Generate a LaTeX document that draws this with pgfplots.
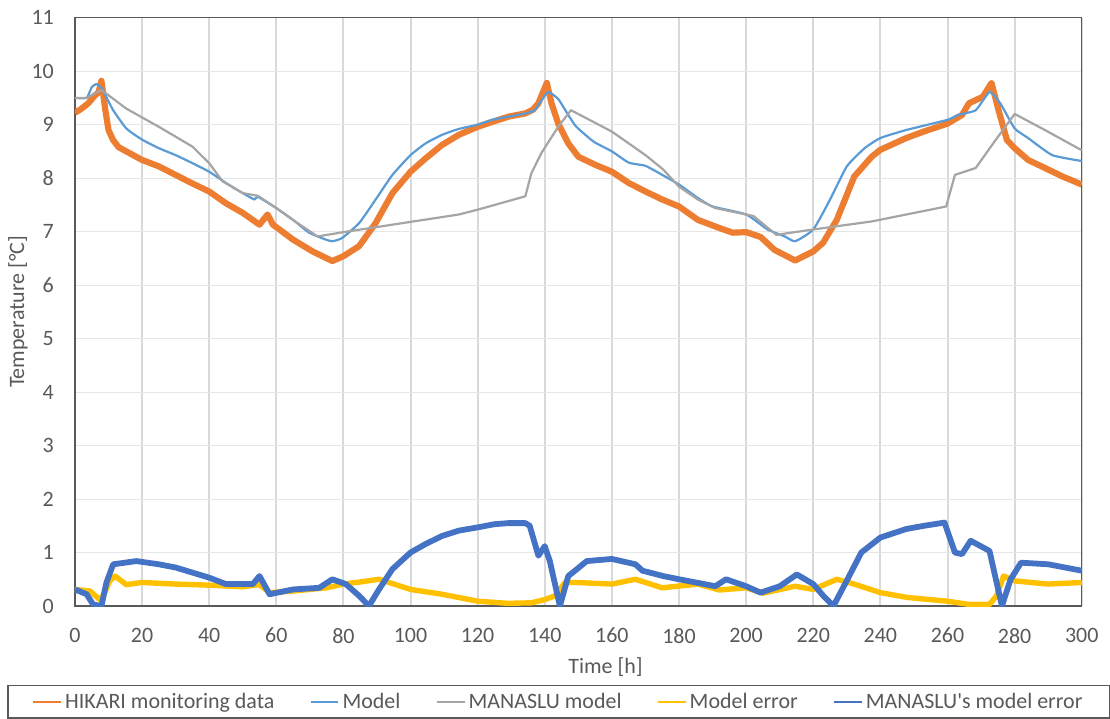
\documentclass[border=0pt]{standalone}
\usepackage{fontspec}
\setmainfont{Carlito}
\usepackage{pgfplots}
\pgfplotsset{compat=1.18}
\definecolor{cOrange}{HTML}{ED7D31}
\definecolor{cLBlue}{HTML}{5B9BD5}
\definecolor{cGray}{HTML}{A5A5A5}
\definecolor{cYellow}{HTML}{FFC000}
\definecolor{cDBlue}{HTML}{4472C4}
\definecolor{txtgray}{HTML}{595959}
\definecolor{gridV}{HTML}{D9D9D9}
\definecolor{gridH}{HTML}{E6E6E6}
\definecolor{axisgray}{HTML}{595959}
\begin{document}
\begin{tikzpicture}[font=\fontsize{11}{13}\selectfont]
\begin{axis}[
  scale only axis, width=504pt, height=294.5pt,
  xmin=0, xmax=300, ymin=0, ymax=11,
  xtick={0,20,...,300}, ytick={0,1,...,11},
  /pgf/number format/assume math mode=true,
  tick label style={color=txtgray, font=\fontsize{11}{13}\selectfont},
  major tick length=0pt,
  xmajorgrids, ymajorgrids,
  x grid style={draw=gridV, line width=1pt},
  y grid style={draw=gridH, line width=0.5pt},
  axis line style={draw=axisgray, line width=0.6pt},
  xlabel={Time [h]}, ylabel={Temperature [°C]},
  label style={color=txtgray, font=\fontsize{11}{13}\selectfont},
  xlabel style={at={(axis description cs:0.527,-0.104)}, anchor=center},
  ylabel style={at={(axis description cs:-0.0565,0.5)}, anchor=center},
  xticklabel shift=7.5pt, yticklabel shift=7pt,
  legend columns=5,
  legend style={at={(axis description cs:0.4805,-0.1346)}, anchor=north,
    draw=axisgray, line width=0.6pt, text=txtgray,
    font=\fontsize{11}{13}\selectfont,
    inner xsep=12pt, inner ysep=1.5pt,
    nodes={inner xsep=1.5pt},
    /tikz/every even column/.append style={column sep=16pt}},
  legend image code/.code={\draw[#1, line width=1.1pt] (0pt,0pt) -- (14pt,0pt);},
]
\addplot[cOrange, line width=3.1pt, line join=round] coordinates {
(0,9.22) (2,9.3) (4,9.4) (6,9.55) (7,9.6) (7.9,9.82) (9,9.3) (10,8.9) (11.4,8.71) (13,8.58) (15.3,8.5) (20,8.34) (25,8.22) (30,8.06) (35,7.9) (40,7.75) (45,7.53) (50,7.35) (55,7.13) (57.4,7.32) (59,7.13) (65,6.85) (70.8,6.63) (76.7,6.45) (80,6.54) (84.7,6.73) (89.6,7.16) (94.6,7.72) (100,8.12) (104.5,8.37) (109.4,8.62) (114.4,8.81) (120,8.96) (124.3,9.05) (129.2,9.15) (134.2,9.21) (136.5,9.28) (138.1,9.4) (140.6,9.78) (142,9.4) (144,9.02) (147,8.65) (150,8.4) (155,8.25) (160,8.12) (165,7.91) (170,7.75) (175,7.6) (180,7.47) (185.6,7.22) (191.9,7.07) (196,6.98) (200,6.99) (204.3,6.9) (208.4,6.66) (214.6,6.46) (220,6.63) (222.9,6.79) (227,7.22) (232.2,8.03) (237.4,8.4) (240,8.53) (247.7,8.75) (252.9,8.87) (260,9.02) (264.3,9.18) (266.4,9.4) (270.5,9.52) (273.1,9.78) (275.2,9.27) (277.7,8.71) (280,8.56) (284,8.34) (289,8.19) (294.3,8.03) (300,7.88)
};
\addlegendentry{HIKARI monitoring data}
\addplot[cLBlue, line width=1.1pt, line join=round, smooth, tension=0.3] coordinates {
(0,9.5) (3.5,9.5) (5,9.7) (6.4,9.76) (8,9.68) (9.5,9.5) (11.4,9.27) (15.3,8.93) (20,8.72) (25,8.56) (30,8.43) (35,8.28) (40,8.12) (45,7.91) (50,7.72) (53.5,7.6) (54.5,7.65) (60,7.44) (65,7.22) (69.8,6.98) (74.8,6.85) (76.7,6.82) (79.6,6.88) (84.7,7.16) (89.6,7.6) (94.6,8.06) (100,8.43) (104.5,8.65) (109.4,8.81) (114.4,8.92) (120,9.0) (124.3,9.09) (129.2,9.15) (134.2,9.21) (137,9.27) (139,9.45) (141,9.61) (144,9.48) (147,9.18) (149.4,8.96) (154.6,8.68) (160,8.5) (165,8.29) (170,8.23) (175,8.06) (180,7.88) (185.6,7.63) (190,7.47) (200,7.32) (206.4,7.04) (211.5,6.91) (214.6,6.82) (220,7.04) (225,7.6) (230,8.22) (235.3,8.56) (240,8.75) (247.7,8.9) (260,9.09) (263,9.18) (268.4,9.27) (272.5,9.61) (275.7,9.4) (280,8.93) (284,8.75) (291.2,8.43) (300,8.32)
};
\addlegendentry{Model}
\addplot[cGray, line width=1.1pt, line join=round] coordinates {
(0,9.5) (3.5,9.5) (7.9,9.65) (15.3,9.3) (25,8.96) (35,8.59) (40,8.28) (44,7.94) (50,7.72) (54.5,7.67) (60,7.44) (64.9,7.22) (72.3,6.91) (80,6.99) (94.6,7.13) (114.4,7.32) (120,7.41) (134.2,7.66) (136,8.09) (139,8.47) (144,8.96) (147.8,9.27) (160,8.87) (170,8.43) (175.3,8.16) (180,7.84) (185.6,7.6) (190.8,7.44) (200,7.32) (202.2,7.29) (209,6.94) (220,7.04) (237.4,7.19) (259.6,7.47) (262.2,8.06) (268.4,8.19) (273.6,8.65) (280,9.2) (289,8.9) (300,8.52)
};
\addlegendentry{MANASLU model}
\addplot[cYellow, line width=2.7pt, line join=round] coordinates {
(0,0.31) (4.5,0.28) (7.4,0.12) (8.5,0.2) (10.4,0.47) (12,0.56) (15.3,0.4) (20,0.44) (30,0.41) (40,0.39) (50,0.36) (55,0.4) (58,0.25) (65,0.28) (75,0.34) (80,0.41) (85,0.45) (90.6,0.5) (94.6,0.42) (100,0.31) (109.4,0.22) (120,0.09) (129,0.05) (136,0.06) (140,0.12) (143,0.19) (146,0.44) (149.4,0.44) (160,0.41) (167,0.5) (175,0.34) (185.6,0.41) (192,0.3) (200,0.34) (205,0.24) (214.6,0.37) (220,0.31) (227,0.5) (232.2,0.41) (240,0.25) (248,0.16) (260,0.09) (266.4,0.03) (272.5,0.03) (274.6,0.19) (276.7,0.56) (280,0.47) (290,0.41) (300,0.44)
};
\addlegendentry{Model error}
\addplot[cDBlue, line width=2.9pt, line join=round] coordinates {
(0,0.31) (3.5,0.22) (5.4,0.03) (7.9,0) (9.4,0.44) (11.4,0.78) (18.3,0.84) (25,0.78) (30,0.72) (40,0.53) (45,0.41) (53,0.41) (55,0.56) (58,0.22) (65,0.31) (72.8,0.34) (76.7,0.5) (80.7,0.41) (84.7,0.19) (87.6,0) (90.6,0.31) (94.6,0.69) (100,1.0) (104.5,1.16) (109.4,1.31) (114.4,1.41) (120,1.47) (125,1.53) (129.2,1.55) (134.2,1.55) (135.5,1.5) (138.1,0.94) (140,1.12) (141.5,0.84) (144.5,0) (147,0.56) (148.4,0.63) (152.5,0.84) (160,0.88) (167,0.78) (169.1,0.66) (175.3,0.56) (180,0.5) (185,0.44) (190.8,0.37) (194,0.5) (200,0.37) (204.3,0.25) (210,0.37) (215.1,0.59) (220,0.41) (223,0.19) (226,0) (230.2,0.5) (234.3,1.0) (240,1.28) (247.7,1.44) (253,1.5) (259.1,1.56) (262.2,1.0) (264.3,0.97) (266.9,1.22) (272.5,1.03) (276.2,0) (278.8,0.5) (281.9,0.81) (290,0.78) (300,0.66)
};
\addlegendentry{MANASLU\textquotesingle s model error}
\end{axis}
\path (-37.5pt,-54.15pt) rectangle (517.5pt,303.35pt);
\end{tikzpicture}
\end{document}
